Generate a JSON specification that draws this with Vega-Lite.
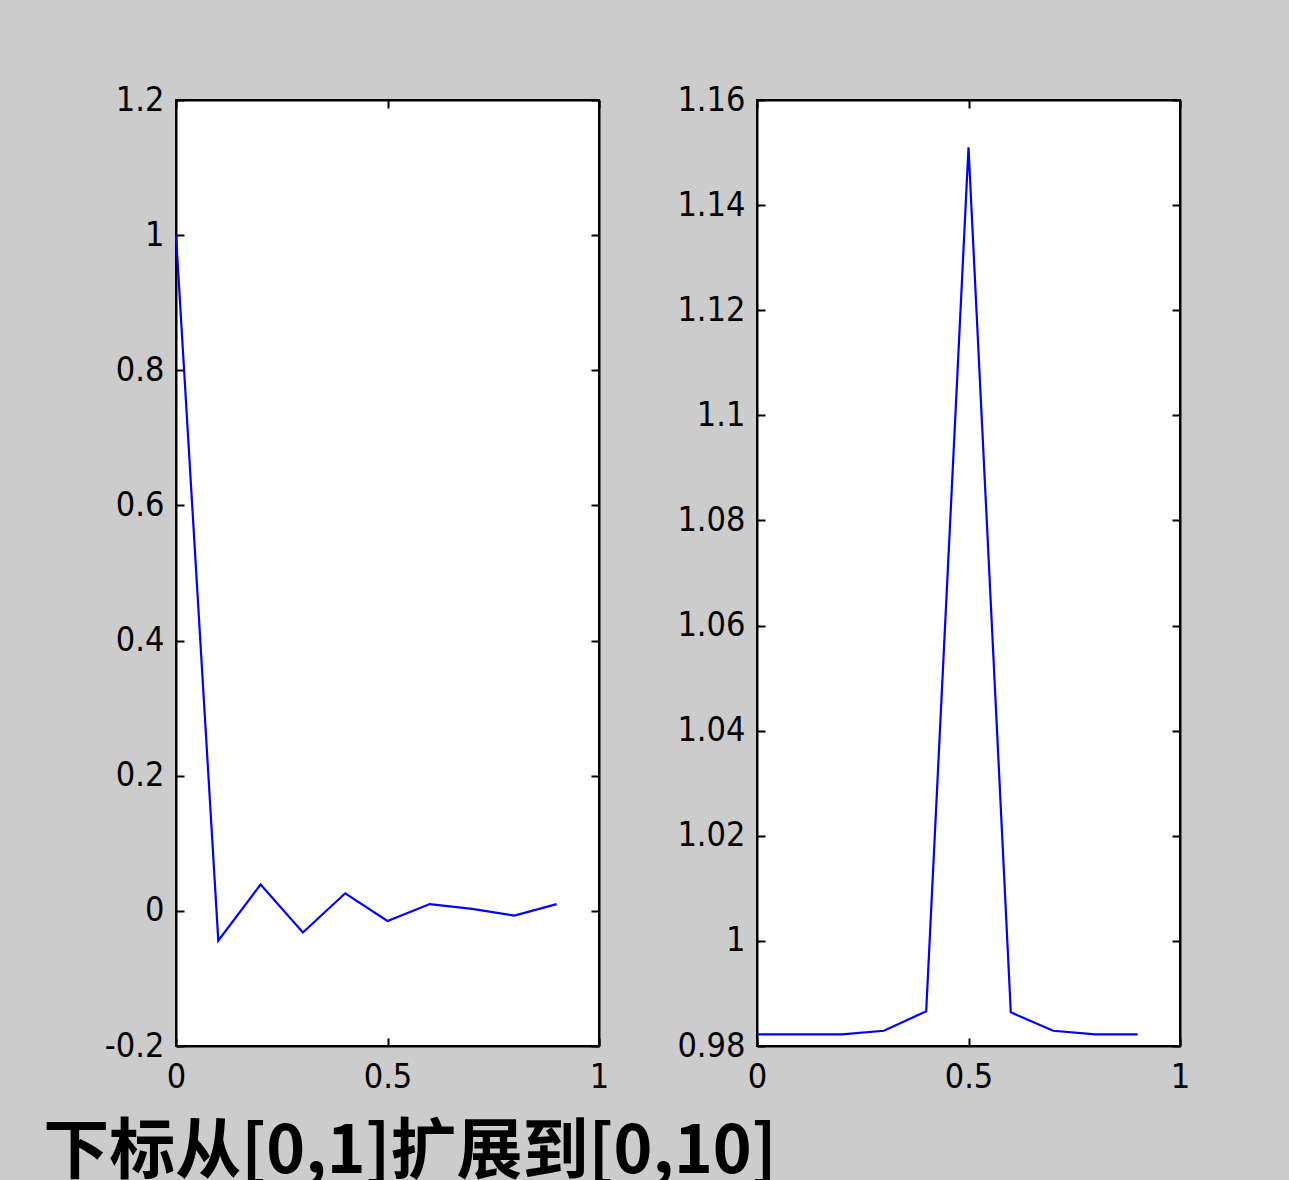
{
  "$schema": "https://vega.github.io/schema/vega-lite/v6.json",
  "background": "#cccccc",
  "padding": {"left": 43, "top": 82, "right": 113, "bottom": 5},
  "datasets": {
    "left": [
      {"x": 0.0, "y": 1.0},
      {"x": 0.1, "y": -0.044},
      {"x": 0.2, "y": 0.039},
      {"x": 0.3, "y": -0.032},
      {"x": 0.4, "y": 0.026},
      {"x": 0.5, "y": -0.015},
      {"x": 0.6, "y": 0.010},
      {"x": 0.7, "y": 0.003},
      {"x": 0.8, "y": -0.007},
      {"x": 0.9, "y": 0.010}
    ],
    "right": [
      {"x": 0.0, "y": 0.9822},
      {"x": 0.1, "y": 0.9822},
      {"x": 0.2, "y": 0.9822},
      {"x": 0.3, "y": 0.9829},
      {"x": 0.4, "y": 0.9866},
      {"x": 0.5, "y": 1.151},
      {"x": 0.6, "y": 0.9864},
      {"x": 0.7, "y": 0.9829},
      {"x": 0.8, "y": 0.9822},
      {"x": 0.9, "y": 0.9822}
    ]
  },
  "title": {
    "text": "下标从[0,1]扩展到[0,10]",
    "orient": "bottom",
    "anchor": "start",
    "font": "Noto Sans CJK SC",
    "fontWeight": "bold",
    "fontSize": 66,
    "color": "#000000",
    "offset": 26,
    "dx": -60
  },
  "config": {
    "view": {"stroke": "#000000", "strokeWidth": 2, "fill": "#ffffff"},
    "axis": {
      "grid": false,
      "domain": true,
      "domainColor": "#000000",
      "domainWidth": 2,
      "ticks": true,
      "tickColor": "#000000",
      "tickWidth": 2,
      "tickSize": -8,
      "labelFont": "Liberation Sans Narrow, DejaVu Sans Condensed, Liberation Sans, sans-serif",
      "labelFontSize": 34,
      "labelColor": "#000000",
      "title": null,
      "labelExpr": "'' + datum.value",
      "labelOverlap": false,
      "labelFlush": false
    }
  },
  "hconcat": [
    {
      "width": 423,
      "height": 946,
      "data": {"name": "left"},
      "layer": [
        {
          "mark": {"type": "line", "color": "#0000ff", "strokeWidth": 2.2},
          "encoding": {
            "x": {"field": "x", "type": "quantitative", "scale": {"domain": [0, 1], "nice": false},
                  "axis": {"orient": "bottom", "values": [0, 0.5, 1], "labelPadding": 22}},
            "y": {"field": "y", "type": "quantitative", "scale": {"domain": [-0.2, 1.2], "nice": false, "zero": false},
                  "axis": {"orient": "left", "values": [-0.2, 0, 0.2, 0.4, 0.6, 0.8, 1, 1.2], "labelPadding": 20}}
          }
        },
        {
          "mark": {"type": "line", "opacity": 0},
          "encoding": {
            "x": {"field": "x", "type": "quantitative", "axis": {"orient": "top", "values": [0, 0.5, 1], "labels": false}},
            "y": {"field": "y", "type": "quantitative", "axis": {"orient": "right", "values": [-0.2, 0, 0.2, 0.4, 0.6, 0.8, 1, 1.2], "labels": false}}
          }
        }
      ],
      "resolve": {"axis": {"x": "independent", "y": "independent"}}
    },
    {
      "width": 423,
      "height": 946,
      "data": {"name": "right"},
      "layer": [
        {
          "mark": {"type": "line", "color": "#0000ff", "strokeWidth": 2.2},
          "encoding": {
            "x": {"field": "x", "type": "quantitative", "scale": {"domain": [0, 1], "nice": false},
                  "axis": {"orient": "bottom", "values": [0, 0.5, 1], "labelPadding": 22}},
            "y": {"field": "y", "type": "quantitative", "scale": {"domain": [0.98, 1.16], "nice": false, "zero": false},
                  "axis": {"orient": "left", "values": [0.98, 1, 1.02, 1.04, 1.06, 1.08, 1.1, 1.12, 1.14, 1.16], "labelPadding": 20}}
          }
        },
        {
          "mark": {"type": "line", "opacity": 0},
          "encoding": {
            "x": {"field": "x", "type": "quantitative", "axis": {"orient": "top", "values": [0, 0.5, 1], "labels": false}},
            "y": {"field": "y", "type": "quantitative", "axis": {"orient": "right", "values": [0.98, 1, 1.02, 1.04, 1.06, 1.08, 1.1, 1.12, 1.14, 1.16], "labels": false}}
          }
        }
      ],
      "resolve": {"axis": {"x": "independent", "y": "independent"}}
    }
  ],
  "spacing": 65
}
